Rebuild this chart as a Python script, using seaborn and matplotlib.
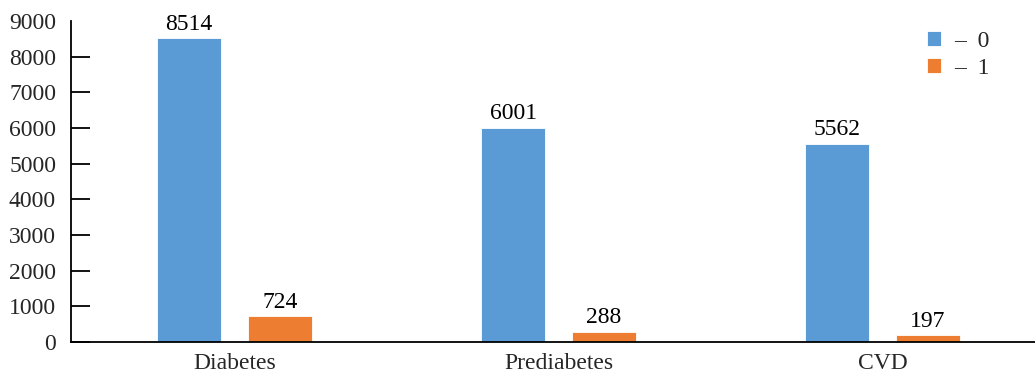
import matplotlib
matplotlib.use("Agg")
import matplotlib.pyplot as plt
import seaborn as sns
import pandas as pd

# Counts per condition, split by status 0 / 1
conditions = ["Diabetes", "Prediabetes", "CVD"]
status_0 = [8514, 6001, 5562]
status_1 = [724, 288, 197]
yticks = [0, 1000, 2000, 3000, 4000, 5000, 6000, 7000, 8000, 9000]
legend_labels = ["–  0", "–  1"]

df = pd.DataFrame({
    "condition": conditions * 2,
    "status": ["0"] * len(conditions) + ["1"] * len(conditions),
    "count": status_0 + status_1,
})

sns.set_theme(style="white")
plt.rcParams["font.family"] = ["Liberation Serif", "DejaVu Serif"]

fig = plt.figure(figsize=(10.35, 3.74), dpi=100)
ax = fig.add_axes([70.7 / 1035, 1 - 342 / 374, 1 - 70.7 / 1035, (342 - 21) / 374])

sns.barplot(
    data=df, x="condition", y="count", hue="status",
    hue_order=["0", "1"], palette=["#5B9BD5", "#ED7D31"], saturation=1,
    width=0.56, gap=0.29, edgecolor="white", linewidth=0.6,
    ax=ax, legend=True,
)

for cont in ax.containers:
    ax.bar_label(cont, fmt="%d", padding=2.5, fontsize=17, color="black")

ax.set_xlim(-0.5056, 2.471)
ax.set_ylim(0, 9000)
ax.set_yticks(yticks)
ax.set_xlabel("")
ax.set_ylabel("")

for side in ["top", "right"]:
    ax.spines[side].set_visible(False)
for side in ["left", "bottom"]:
    ax.spines[side].set_color("black")
    ax.spines[side].set_linewidth(1.3)

ax.tick_params(axis="y", direction="in", length=14, width=1.3, color="black",
               labelsize=17, pad=10.5, left=True)
ax.tick_params(axis="x", length=0, labelsize=17, pad=8)
ax.yaxis.get_major_ticks()[-1].tick1line.set_visible(False)

handles, _ = ax.get_legend_handles_labels()
ax.legend(
    handles, legend_labels, loc="upper left",
    bbox_to_anchor=(927 / 1035, 1 - 31 / 374), bbox_transform=fig.transFigure,
    frameon=False, fontsize=17, handlelength=0.58, handleheight=0.58,
    handletextpad=0.55, labelspacing=0.26, borderpad=0, borderaxespad=0,
)

fig.savefig("out.png", dpi=100)
